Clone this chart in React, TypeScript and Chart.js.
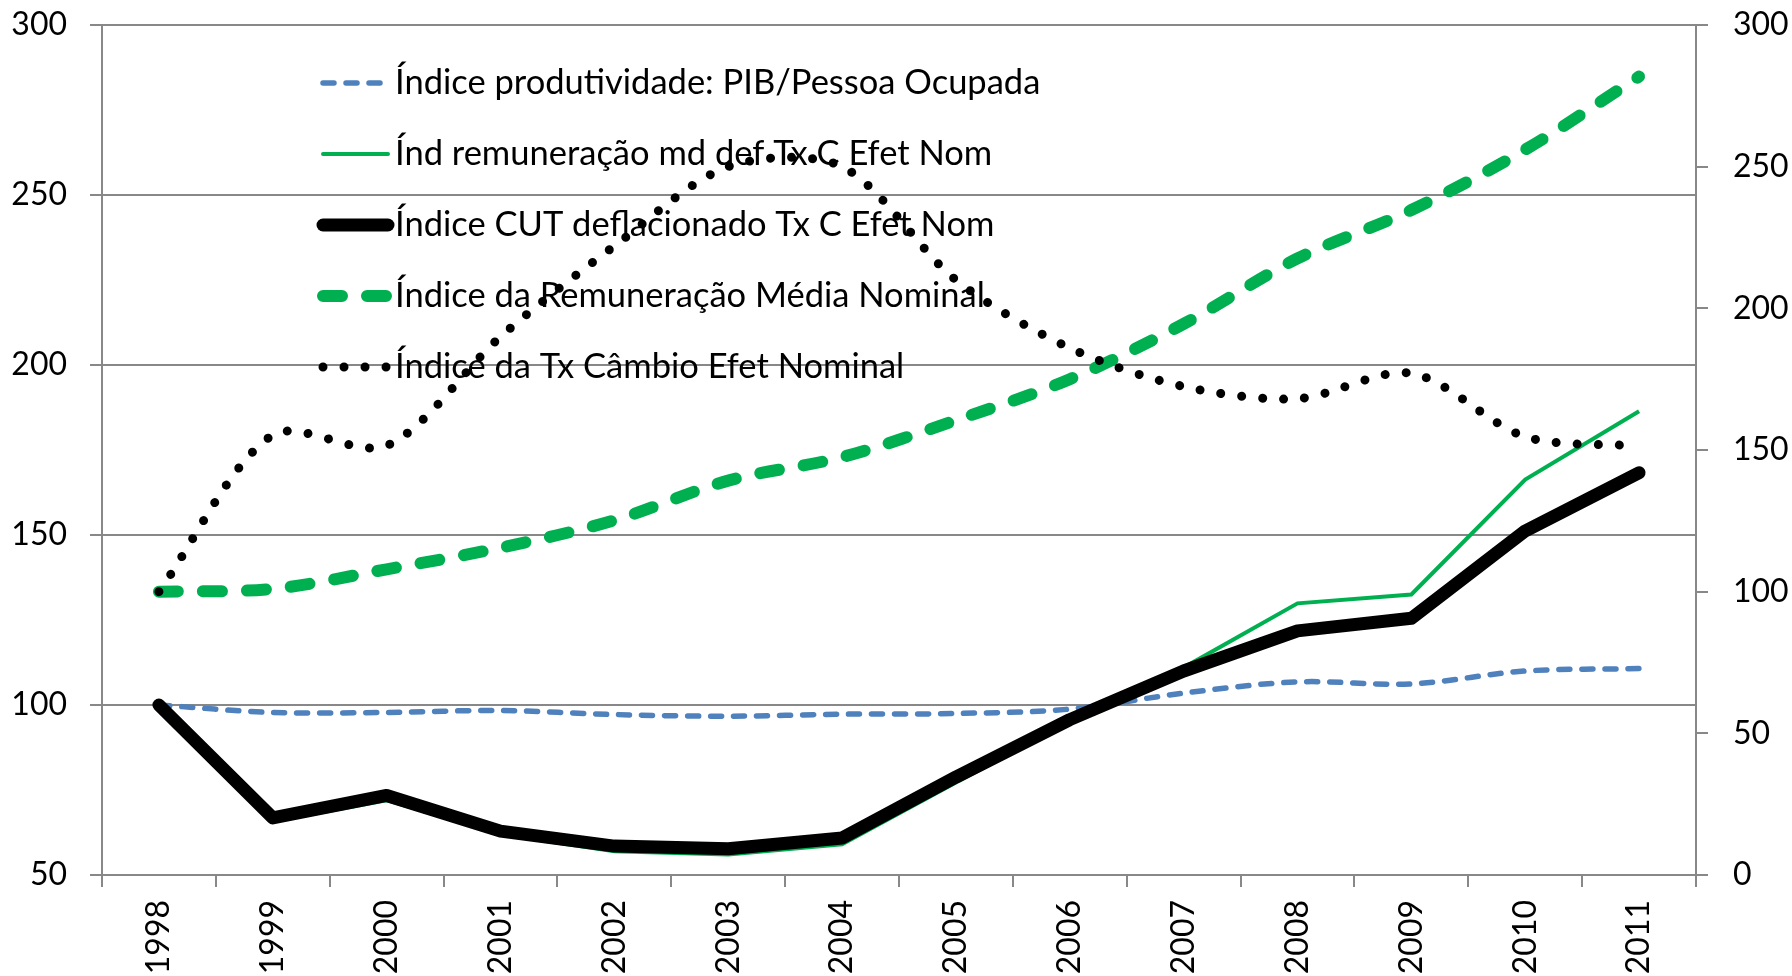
import React, { useEffect, useRef } from 'react';
import { Chart, registerables } from 'chart.js';

Chart.register(...registerables);

const years = ['1998', '1999', '2000', '2001', '2002', '2003', '2004', '2005', '2006', '2007', '2008', '2009', '2010', '2011'];

// left axis
const produtividade = [100, 97.8, 97.8, 98.4, 97.2, 96.7, 97.3, 97.5, 98.8, 103.5, 106.8, 106.2, 110.0, 110.7];
const remuneracaoDef = [100, 65.8, 72.0, 62.0, 57.0, 56.0, 59.0, 77.2, 95.0, 111.0, 129.9, 132.5, 166.3, 186.4];
const cutDeflacionado = [100, 66.8, 73.4, 62.9, 58.5, 57.7, 60.9, 78.8, 95.7, 110.0, 121.8, 125.5, 151.2, 168.3];
// right axis
const remuneracaoNominal = [100, 101.0, 107.9, 115.5, 125.2, 139.2, 147.5, 160.5, 175.0, 194.5, 217.6, 234.7, 256.0, 281.8];
const cambioNominal = [100, 155.3, 151.5, 190.0, 222.0, 250.0, 250.0, 210.0, 186.0, 172.4, 168.1, 177.1, 154.7, 151.4];

const leftTicks = [50, 100, 150, 200, 250, 300];
const rightTicks = [0, 50, 100, 150, 200, 250, 300];

const labels = [
  'Índice produtividade: PIB/Pessoa Ocupada',
  'Índ remuneração md def Tx C Efet Nom',
  'Índice CUT deflacionado Tx C Efet Nom',
  'Índice da Remuneração Média Nominal',
  'Índice da Tx Câmbio Efet Nominal',
];

const FONT = 'Lato';
const GRID = '#888888';

const legendPlugin = {
  id: 'customLegend',
  afterDatasetsDraw(chart: any) {
    const ctx = chart.ctx;
    ctx.save();
    chart.data.datasets.forEach((ds: any, i: number) => {
      const y = 83 + i * 71;
      ctx.beginPath();
      ctx.setLineDash(ds.borderDash || []);
      ctx.lineCap = 'round';
      ctx.lineWidth = ds.borderWidth;
      ctx.strokeStyle = ds.borderColor;
      ctx.moveTo(323, y);
      ctx.lineTo(388, y);
      ctx.stroke();
      ctx.setLineDash([]);
      ctx.fillStyle = '#000';
      ctx.font = `34.5px ${FONT}`;
      ctx.textBaseline = 'middle';
      ctx.textAlign = 'left';
      ctx.fillText(ds.label, 395, y);
    });
    ctx.restore();
  },
};

const fitVertical = (width: number) => (scale: any) => {
  scale.width = width;
  scale.paddingTop = 0;
  scale.paddingBottom = 0;
};

export default function App() {
  const canvasRef = useRef<HTMLCanvasElement | null>(null);

  useEffect(() => {
    if (!canvasRef.current) return;
    const chart = new Chart(canvasRef.current, {
      type: 'line',
      data: {
        labels: years,
        datasets: [
          {
            label: labels[0],
            data: produtividade,
            yAxisID: 'y',
            borderColor: '#4F81BD',
            borderWidth: 5.5,
            borderDash: [11, 12],
            borderCapStyle: 'round',
            tension: 0.33,
            pointRadius: 0,
            order: 4,
          },
          {
            label: labels[1],
            data: remuneracaoDef,
            yAxisID: 'y',
            borderColor: '#00B050',
            borderWidth: 4,
            tension: 0,
            pointRadius: 0,
            order: 3,
          },
          {
            label: labels[2],
            data: cutDeflacionado,
            yAxisID: 'y',
            borderColor: '#000000',
            borderWidth: 13,
            borderJoinStyle: 'round',
            borderCapStyle: 'round',
            tension: 0,
            pointRadius: 0,
            order: 2,
          },
          {
            label: labels[3],
            data: remuneracaoNominal,
            yAxisID: 'y1',
            borderColor: '#00B050',
            borderWidth: 12,
            borderDash: [19, 25],
            borderCapStyle: 'round',
            tension: 0.33,
            pointRadius: 0,
            order: 1,
          },
          {
            label: labels[4],
            data: cambioNominal,
            yAxisID: 'y1',
            borderColor: '#000000',
            borderWidth: 9,
            borderDash: [0.01, 21],
            borderCapStyle: 'round',
            tension: 0.3,
            pointRadius: 0,
            order: 0,
          },
        ],
      },
      options: {
        responsive: false,
        animation: false,
        devicePixelRatio: 1,
        layout: { padding: { top: 25, left: 0, right: 0, bottom: 0 } },
        plugins: {
          legend: { display: false },
          tooltip: { enabled: false },
        },
        font: { family: FONT, size: 32 },
        scales: {
          x: {
            type: 'category',
            offset: true,
            grid: {
              display: true,
              offset: true,
              drawOnChartArea: false,
              drawTicks: true,
              tickLength: 12,
              color: GRID,
              lineWidth: 2,
            },
            border: { display: true, color: GRID, width: 2 },
            ticks: {
              autoSkip: false,
              maxRotation: 90,
              minRotation: 90,
              padding: 13,
              color: '#000',
              font: { family: FONT, size: 32 },
            },
            afterFit: (scale: any) => {
              scale.height = 101;
            },
          },
          y: {
            position: 'left',
            min: 50,
            max: 300,
            afterBuildTicks: (scale: any) => {
              scale.ticks = leftTicks.map((v) => ({ value: v }));
            },
            grid: {
              drawOnChartArea: true,
              drawTicks: true,
              tickLength: 12,
              color: GRID,
              lineWidth: 2,
            },
            border: { display: true, color: GRID, width: 2 },
            ticks: {
              padding: 23,
              color: '#000',
              font: { family: FONT, size: 32 },
            },
            afterFit: fitVertical(102),
          },
          y1: {
            position: 'right',
            min: 0,
            max: 300,
            afterBuildTicks: (scale: any) => {
              scale.ticks = rightTicks.map((v) => ({ value: v }));
            },
            grid: {
              drawOnChartArea: false,
              drawTicks: true,
              tickLength: 12,
              color: GRID,
              lineWidth: 2,
            },
            border: { display: true, color: GRID, width: 2 },
            ticks: {
              padding: 25,
              color: '#000',
              font: { family: FONT, size: 32 },
            },
            afterFit: fitVertical(96),
          },
        },
      } as any,
      plugins: [legendPlugin],
    });
    return () => chart.destroy();
  }, []);

  return (
    <div style={{ position: 'absolute', left: 0, top: 0, width: 1792, height: 976, background: '#fff' }}>
      <canvas ref={canvasRef} width={1792} height={976} style={{ width: 1792, height: 976, display: 'block' }} />
    </div>
  );
}
